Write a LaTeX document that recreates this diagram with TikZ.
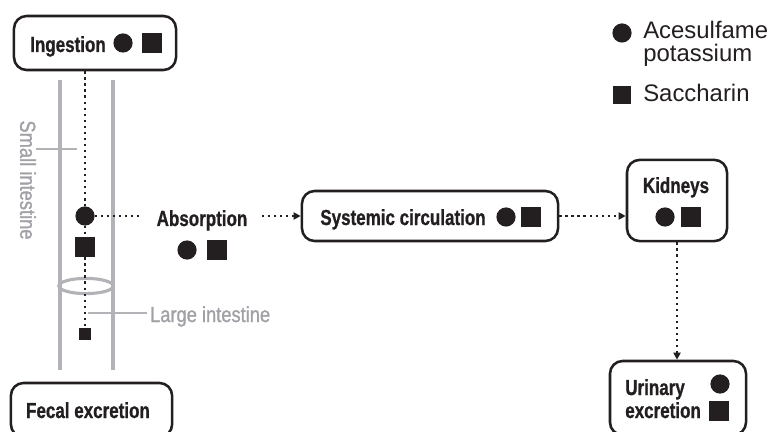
\documentclass[tikz,border=0pt]{standalone}
\usepackage{fontspec}
\setmainfont{Liberation Sans}
\newfontfamily\condfont[FakeStretch=0.78,FakeBold=0.8]{Liberation Sans}
\newfontfamily\narrowfont[FakeStretch=0.84,FakeBold=1.2]{Liberation Sans}
\usepackage{tikz}
\usetikzlibrary{arrows.meta,positioning,calc}
\definecolor{inkblack}{RGB}{35,31,32}
\definecolor{gutgray}{RGB}{178,178,183}
\definecolor{labelgray}{RGB}{160,160,166}
\tikzset{
  stage/.style={draw=inkblack,line width=1.8pt,rounded corners=9pt,inner sep=0pt},
  lbl/.style={font=\condfont\bfseries\fontsize{15.5}{16.5}\selectfont,text=inkblack,anchor=base,inner sep=0pt},
  acek/.style={circle,fill=inkblack,inner sep=0pt,minimum size=0.48cm},
  sacc/.style={rectangle,fill=inkblack,inner sep=0pt,minimum size=0.5cm},
  flow/.style={draw=inkblack,line width=1.6pt,dash pattern=on 1.6pt off 2.7pt},
  flowarr/.style={flow,-{Triangle[length=5pt,width=5pt]}},
  gut/.style={draw=gutgray,line width=3pt},
  gutnote/.style={draw=gutgray,line width=1pt},
  gutlbl/.style={font=\narrowfont\fontsize{15.5}{16}\selectfont,text=labelgray,inner xsep=2pt,inner ysep=0pt},
  legend/.style={font=\fontsize{17}{17.5}\selectfont,text=inkblack,anchor=base west,inner sep=0pt}
}
\begin{document}
\begin{tikzpicture}[x=0.025cm,y=-0.025cm]
  \useasboundingbox (0,0) rectangle (773,432);
  % intestine
  \draw[gut] (60,80) -- (60,370);
  \draw[gut] (113,80) -- (113,370);
  \draw[gutgray,line width=2.2pt] (86,286) ellipse [x radius=0.68cm,y radius=0.19cm];
  \node[gutlbl,rotate=-90] (silbl) at (28,180) {Small intestine};
  \coordinate (sinote) at (77,149);
  \draw[gutnote] (silbl.north |- sinote) -- (sinote);
  \node[gutlbl,anchor=base west] (lilbl) at (147,322) {Large intestine};
  \coordinate (linote) at (88,313);
  \draw[gutnote] (linote) -- (linote -| lilbl.west);
  \node[acek] (gutace) at (85,216) {};
  \node[sacc] (gutsac) at (85,247) {};
  \node[sacc,minimum size=0.3cm] (colsac) at (85,334) {};
  % ingestion
  \node[stage,minimum width=4.05cm,minimum height=1.35cm] (ingest) at (95,43) {};
  \node[lbl] (ingestl) at (68,52) {Ingestion};
  \node[acek] (ingestace) at (123,43) {};
  \node[sacc] (ingestsac) at (152,43) {};
  \draw[flow] (ingest.south -| gutace) -- (gutace);
  \draw[flow] (gutace) -- (gutsac);
  \draw[flow] (gutsac) -- (colsac);
  % absorption
  \node[lbl,inner xsep=0.35cm] (absorb) at (202,226) {Absorption};
  \node[acek] (absace) at (187,250) {};
  \node[sacc] (abssac) at (217,250) {};
  \draw[flow] (gutace) -- (gutace -| absorb.west);
  % systemic circulation
  \node[stage,minimum width=6.4cm,minimum height=1.25cm] (sysc) at (430,216) {};
  \node[lbl] (syscl) at (403,225) {Systemic circulation};
  \node[acek] (syscace) at (506,217) {};
  \node[sacc] (syscsac) at (531,217) {};
  \draw[flowarr] (gutace -| absorb.east) -- (gutace -| sysc.west);
  % kidneys
  \node[stage,minimum width=2.5cm,minimum height=2.03cm] (kidney) at (677,200.5) {};
  \node[lbl] (kidneyl) at (676,193) {Kidneys};
  \node[acek] (kidace) at (665,217) {};
  \node[sacc] (kidsac) at (691,217) {};
  \draw[flowarr] (sysc.east) -- (sysc.east -| kidney.west);
  % urinary excretion
  \node[stage,minimum width=3.4cm,minimum height=1.85cm] (urine) at (678,398) {};
  \node[lbl,anchor=base west] (urinel) at (625,395) {Urinary};
  \node[lbl,anchor=base west] (urinel2) at (625,418) {excretion};
  \node[acek] (urace) at (720,384) {};
  \node[sacc] (ursac) at (719,411) {};
  \draw[flowarr] (kidney.south) -- (kidney.south |- urine.north);
  % fecal excretion
  \node[stage,minimum width=4.03cm,minimum height=1.35cm] (fecal) at (91.5,410) {};
  \node[lbl] (fecall) at (88,418) {Fecal excretion};
  % legend
  \node[acek] (keyace) at (622,33) {};
  \node[legend] (keyacel) at (643,39) {Acesulfame};
  \node[legend] (keyacel2) at (643,62) {potassium};
  \node[sacc,minimum size=0.46cm] (keysac) at (622,95) {};
  \node[legend] (keysacl) at (643,102) {Saccharin};
\end{tikzpicture}
\end{document}
